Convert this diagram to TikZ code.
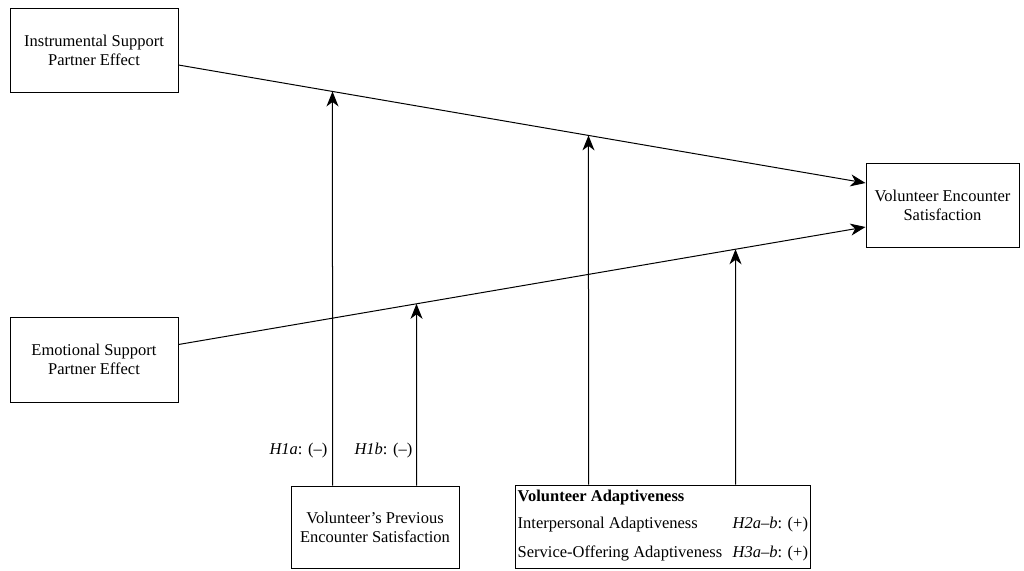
\documentclass[tikz,border=0pt]{standalone}
\usepackage{fontspec}
\setmainfont{Liberation Serif}[Ligatures=ResetAll,Ligatures=Common]
\usetikzlibrary{arrows.meta,calc}
\begin{document}
\begin{tikzpicture}[x=1pt,y=-1pt,
  box/.style={draw,line width=1pt,inner sep=0pt,align=center,font=\fontsize{16.5}{19}\selectfont},
  arr/.style={line width=1pt,-{Stealth[length=15pt,width=12pt,inset=4.5pt]}},
  lbl/.style={inner sep=0pt,font=\fontsize{16.5}{19}\selectfont}]
\useasboundingbox (0,0) rectangle (1024,570);
% boxes
\node[box,minimum width=168,minimum height=84] (ins) at (94,50) {Instrumental Support\\Partner Effect};
\node[box,minimum width=168,minimum height=85] (emo) at (94,359.5) {Emotional Support\\Partner Effect};
\node[box,minimum width=153,minimum height=84] (ves) at (942.5,205) {Volunteer Encounter\\Satisfaction};
\node[box,minimum width=168,minimum height=82] (pes) at (375,527) {Volunteer's Previous\\Encounter Satisfaction};
\node[box,minimum width=295,minimum height=83] (va) at (662.5,526.5) {};
% text of adaptiveness box
\node[lbl,anchor=base west] (vah) at ($(va.north west)+(3,17)$) {\textbf{Volunteer Adaptiveness}};
\node[lbl,anchor=base west] (vai) at ($(va.north west)+(3,44)$) {Interpersonal Adaptiveness};
\node[lbl,anchor=base west] (vas) at ($(va.north west)+(3,73)$) {Service-Offering Adaptiveness};
\node[lbl,anchor=base west] (h2) at ($(va.north west)+(218,44)$) {\textit{H2a}–\textit{b}: (+)};
\node[lbl,anchor=base west] (h3) at ($(va.north west)+(218,73)$) {\textit{H3a}–\textit{b}: (+)};
% main paths
\coordinate (ua) at ($(ins.east)+(0,15)$);
\coordinate (ub) at ($(ves.west)+(0,-22)$);
\coordinate (la) at ($(emo.east)+(0,-15)$);
\coordinate (lb) at ($(ves.west)+(0,22)$);
\draw[arr] (ua) -- (ub);
\draw[arr] (la) -- (lb);
% moderator arrows
\coordinate (m1) at ($(pes.north west)+(42,0)$);
\coordinate (m1t) at ($(m1)+(0,-10)$);
\coordinate (m2) at ($(pes.north west)+(126,0)$);
\coordinate (m2t) at ($(m2)+(0,-10)$);
\coordinate (m3) at ($(va.north west)+(74,0)$);
\coordinate (m3t) at ($(m3)+(0,-10)$);
\coordinate (m4) at ($(va.north west)+(221,0)$);
\coordinate (m4t) at ($(m4)+(0,-10)$);
\draw[arr] (m1) -- (intersection of ua--ub and m1--m1t);
\draw[arr] (m2) -- (intersection of la--lb and m2--m2t);
\draw[arr] (m3) -- (intersection of ua--ub and m3--m3t);
\draw[arr] (m4) -- (intersection of la--lb and m4--m4t);
% hypothesis labels
\node[lbl,anchor=base east] (h1a) at ($(m1)+(-5,-31)$) {\textit{H1a}: (–)};
\node[lbl,anchor=base east] (h1b) at ($(m2)+(-4,-31)$) {\textit{H1b}: (–)};
\end{tikzpicture}
\end{document}
